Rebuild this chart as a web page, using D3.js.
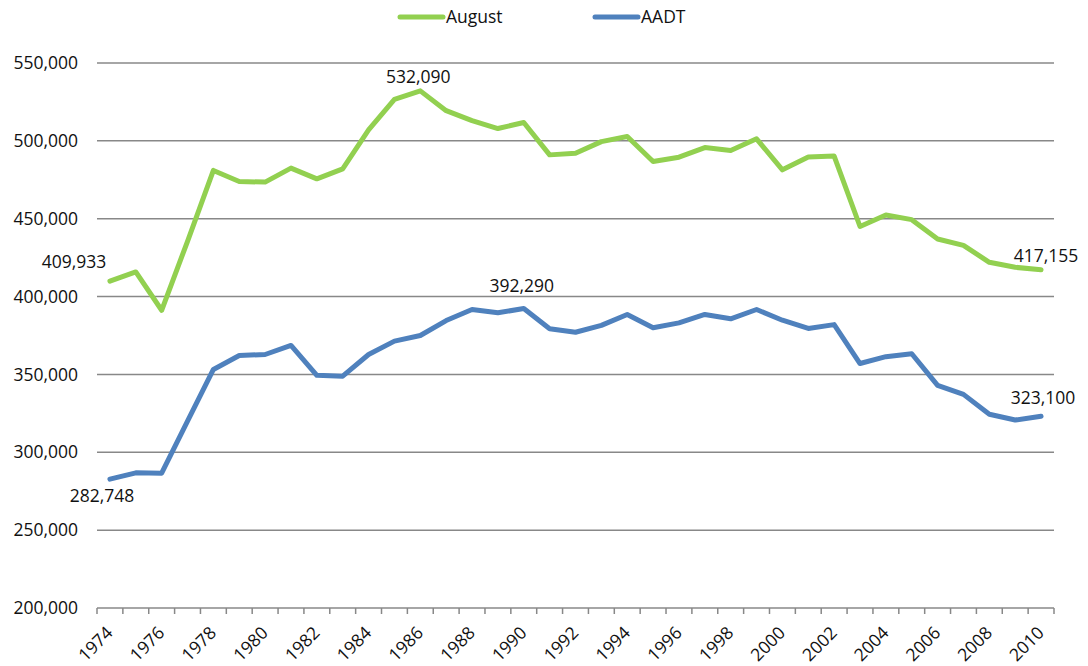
<!DOCTYPE html>
<html>
<head>
<meta charset="utf-8">
<script src="https://cdn.jsdelivr.net/npm/d3@7"></script>
<style>
  body { margin: 0; background: #fff; }
  svg { font-family: "Open Sans", "Noto Sans", sans-serif; }
</style>
</head>
<body>
<svg class="canvas" width="1088" height="666"></svg>
<script>
// data
const years = d3.range(1974, 2011);
const august = [409933, 415800, 391200, 435500, 481000, 473900, 473500, 482500, 475600, 482000,
    507000, 526700, 532090, 519400, 513000, 507900, 511800, 491000, 492100, 499500,
    502800, 486700, 489500, 495700, 493800, 501300, 481400, 489700, 490200, 445000,
    452400, 449400, 437000, 432900, 422000, 418800, 417155];
const aadt = [282748, 286800, 286600, 320000, 353200, 362200, 362800, 368600, 349400, 348900,
    362800, 371400, 375000, 384600, 391700, 389600, 392290, 379300, 377100, 381500,
    388500, 380000, 383100, 388500, 385700, 391700, 384800, 379500, 382000, 357000,
    361400, 363300, 343000, 337200, 324400, 320700, 323100];
const yTicks = [200000, 250000, 300000, 350000, 400000, 450000, 500000, 550000];
const seriesNames = ['August', 'AADT'];
const colors = ['#92d050', '#4f81bd'];

const svg = d3.select('.canvas');
const plotLeft = 97, plotRight = 1054, plotTop = 63, plotBottom = 608;
const fontSize = 17.5;

const xScale = d3.scaleBand().domain(years).range([plotLeft, plotRight]);
const yScale = d3.scaleLinear().domain([200000, 550000]).range([plotBottom, plotTop]);
const cx = (d) => xScale(d) + xScale.bandwidth() / 2;
const fmt = d3.format(',');

// gridlines
svg.append('g')
    .selectAll('line')
    .data(yTicks)
    .enter()
    .append('line')
    .attr('x1', plotLeft)
    .attr('x2', plotRight)
    .attr('y1', (d) => yScale(d))
    .attr('y2', (d) => yScale(d))
    .attr('stroke', '#888')
    .attr('stroke-width', 1.5);

// y labels
svg.append('g')
    .selectAll('text')
    .data(yTicks)
    .enter()
    .append('text')
    .attr('x', 78)
    .attr('y', (d) => yScale(d))
    .attr('dy', '0.35em')
    .attr('text-anchor', 'end')
    .attr('font-size', fontSize)
    .attr('fill', '#111')
    .text(fmt);

// x ticks on category boundaries
const tickX = years.map((d) => xScale(d)).concat([plotRight]);
svg.append('g')
    .selectAll('line')
    .data(tickX)
    .enter()
    .append('line')
    .attr('x1', (d) => d)
    .attr('x2', (d) => d)
    .attr('y1', plotBottom)
    .attr('y2', plotBottom + 6)
    .attr('stroke', '#888')
    .attr('stroke-width', 1.5);

// x labels
svg.append('g')
    .selectAll('text')
    .data(years.filter((d) => d % 2 === 0))
    .enter()
    .append('text')
    .attr('text-anchor', 'end')
    .attr('font-size', fontSize)
    .attr('fill', '#111')
    .attr('transform', (d) => `translate(${cx(d) + 4}, ${plotBottom + 26}) rotate(-45)`)
    .text((d) => d);

// lines
const line = d3.line().x((d, i) => cx(years[i])).y((d) => yScale(d));
[august, aadt].forEach((vals, k) => {
    svg.append('path')
        .datum(vals)
        .attr('d', line)
        .attr('fill', 'none')
        .attr('stroke', colors[k])
        .attr('stroke-width', 5)
        .attr('stroke-linejoin', 'round')
        .attr('stroke-linecap', 'round');
});

// data labels
const labels = [
    { year: 1974, v: august[0], dx: -36, dy: -13 },
    { year: 1986, v: august[12], dx: -2, dy: -8 },
    { year: 2010, v: august[36], dx: 5, dy: -8 },
    { year: 1974, v: aadt[0], dx: -8, dy: 23 },
    { year: 1990, v: aadt[16], dx: -2, dy: -17 },
    { year: 2010, v: aadt[36], dx: 2, dy: -12 }
];
svg.append('g')
    .selectAll('text')
    .data(labels)
    .enter()
    .append('text')
    .attr('x', (d) => cx(d.year) + d.dx)
    .attr('y', (d) => yScale(d.v) + d.dy)
    .attr('text-anchor', 'middle')
    .attr('font-size', fontSize)
    .attr('fill', '#111')
    .text((d) => fmt(d.v));

// legend
const legendX = [400, 595];
seriesNames.forEach((name, k) => {
    svg.append('line')
        .attr('x1', legendX[k])
        .attr('x2', legendX[k] + 43)
        .attr('y1', 17)
        .attr('y2', 17)
        .attr('stroke', colors[k])
        .attr('stroke-width', 5)
        .attr('stroke-linecap', 'round');
    svg.append('text')
        .attr('x', legendX[k] + 46)
        .attr('y', 17)
        .attr('dy', '0.35em')
        .attr('font-size', fontSize)
        .attr('fill', '#111')
        .text(name);
});
</script>
</body>
</html>
